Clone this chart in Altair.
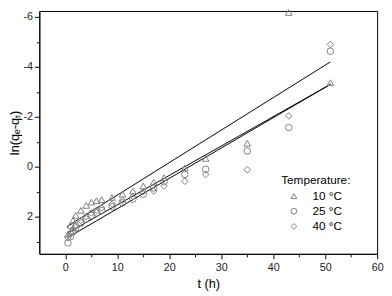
import altair as alt
import pandas as pd

# ---- data ----
t_hours = [0.5, 1, 1.5, 2, 3, 4, 5, 6, 7, 9, 11, 13, 15, 17, 19, 23, 27, 35, 43, 51]
y_10C = [2.70, 2.35, 2.15, 1.95, 1.75, 1.55, 1.42, 1.36, 1.32, 1.23, 1.10, 0.97, 0.77, 0.62, 0.44, 0.05, -0.33, -0.94, -6.18, -3.37]
y_25C = [3.05, 2.80, 2.60, 2.45, 2.25, 2.10, 1.95, 1.85, 1.75, 1.60, 1.45, 1.30, 1.10, 0.85, 0.60, 0.31, 0.10, -0.63, -1.57, -4.63]
y_40C = [2.85, 2.65, 2.50, 2.35, 2.15, 2.00, 1.85, 1.75, 1.65, 1.50, 1.35, 1.20, 1.00, 0.97, 0.77, 0.58, 0.31, 0.12, -2.04, -4.90]
series_labels = ["10 °C", "25 °C", "40 °C"]
series_shapes = ["triangle-up", "circle", "diamond"]

# fitted straight lines (value at first and last time)
fit_t = [0.3, 51]
fit_start = [2.40, 2.67, 2.86]
fit_end = [-4.20, -3.30, -3.30]

x_tick_values = list(range(0, 61, 5))
y_tick_values = list(range(-6, 4))

# ---- tables ----
rows = []
for lab, ys in zip(series_labels, [y_10C, y_25C, y_40C]):
    for t, v in zip(t_hours, ys):
        rows.append({"t": t, "v": v, "Temperature": lab})
pts = pd.DataFrame(rows)

fit_rows = []
for i, (a, b) in enumerate(zip(fit_start, fit_end)):
    fit_rows.append({"t": fit_t[0], "v": a, "fit": i})
    fit_rows.append({"t": fit_t[1], "v": b, "fit": i})
fits = pd.DataFrame(fit_rows)

FONT = "Liberation Sans"

x_enc = alt.X(
    "t:Q",
    scale=alt.Scale(domain=[-5, 60], nice=False, zero=False),
    axis=alt.Axis(
        title="t (h)",
        values=x_tick_values,
        labelExpr="datum.value % 10 === 0 ? datum.label : ''",
        tickSize={"condition": {"test": "datum.value % 10 === 0", "value": 5}, "value": 3},
        grid=False,
        labelFlush=False,
        labelPadding=3,
        titlePadding=5,
    ),
)
y_enc = alt.Y(
    "v:Q",
    scale=alt.Scale(domain=[-6.24, 3.49], nice=False, zero=False, reverse=True),
    axis=alt.Axis(
        title="ln(qₑ-qₜ)",
        values=y_tick_values,
        labelExpr="datum.value % 2 === 0 ? '' + datum.value : ''",
        tickSize={"condition": {"test": "datum.value % 2 === 0", "value": 5}, "value": 3},
        grid=False,
        labelFlush=False,
        labelPadding=2,
        titlePadding=1,
    ),
)

lines = alt.Chart(fits).mark_line(color="black", strokeWidth=1).encode(
    x=x_enc, y=y_enc, detail="fit:N"
)

points = alt.Chart(pts).mark_point(filled=False, color="#808080", size=45, strokeWidth=1, opacity=1).encode(
    x=x_enc,
    y=y_enc,
    shape=alt.Shape(
        "Temperature:N",
        scale=alt.Scale(domain=series_labels, range=series_shapes),
        legend=alt.Legend(
            title="Temperature:",
            orient="none",
            legendX=247,
            legendY=168,
            padding=0,
            titleFont=FONT,
            titleFontSize=12,
            titleFontWeight="normal",
            titleColor="black",
            titlePadding=3,
            labelFont=FONT,
            labelFontSize=12,
            labelColor="black",
            labelOffset=13,
            symbolOffset=7,
            symbolSize=35,
            symbolStrokeColor="#808080",
            symbolFillColor="transparent",
            symbolStrokeWidth=1,
            rowPadding=3.5,
        ),
    ),
)

chart = (
    alt.layer(lines, points)
    .properties(
        width=345,
        height=248,
        autosize=alt.AutoSizeParams(type="none"),
        padding={"left": 32, "top": 0, "right": 7, "bottom": 40},
    )
    .configure_view(stroke="black", strokeWidth=1)
    .configure_axis(
        domainColor="black",
        tickColor="black",
        labelFont=FONT,
        labelFontSize=11,
        labelColor="#222222",
        titleFont=FONT,
        titleFontSize=13,
        titleFontWeight="normal",
        titleColor="black",
    )
)

chart.save("out.html", embed_options={"renderer": "svg", "actions": False})
